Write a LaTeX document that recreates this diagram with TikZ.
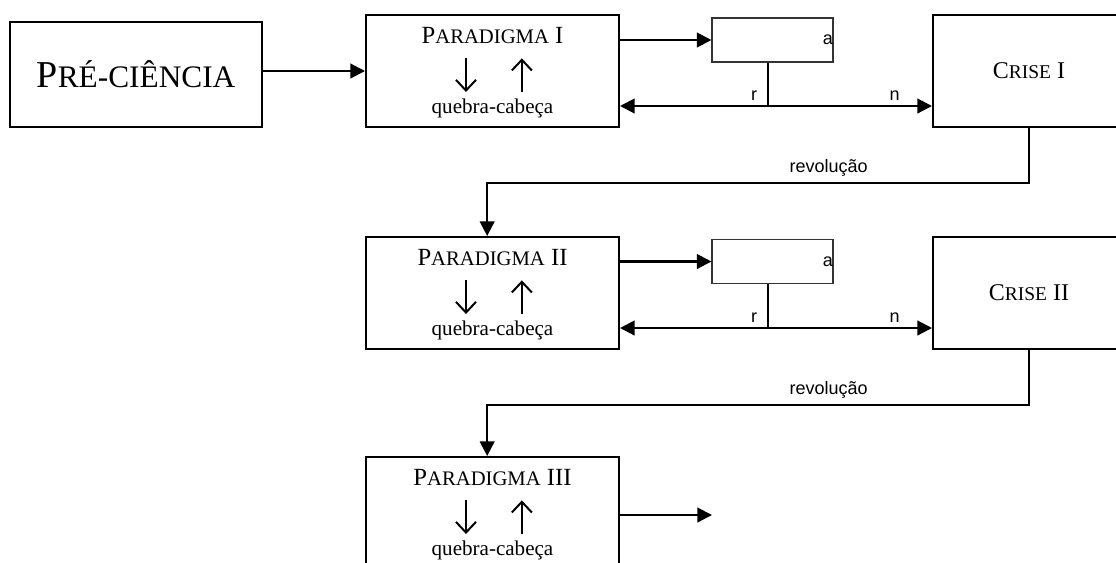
\documentclass[tikz,border=0pt]{standalone}
\usepackage{fontspec}
\setmainfont{Liberation Serif}
\newfontfamily\arialfont{Liberation Sans}
\usetikzlibrary{positioning, arrows.meta}
\newcommand{\sctitle}[1]{{\fontsize{15.5}{17}\selectfont #1}} % fake small caps
\newcommand{\sccrise}[1]{{\fontsize{14.6}{16}\selectfont #1}}
\newcommand{\scbig}[1]{{\fontsize{23.5}{26}\selectfont #1}}
\tikzset{
    >={Triangle[length=11pt, width=11pt]}, % filled heads
    box/.style={draw, line width=1.5pt, inner sep=0pt},
    parbox/.style={box, minimum width=189.75pt, minimum height=84pt},
    crisebox/.style={box, minimum width=144pt, minimum height=84pt, font=\fontsize{18}{20}\selectfont},
    smallbox/.style={draw, black!80, line width=0.8pt, minimum width=90.75pt, minimum height=33pt, inner sep=0pt},
    flow/.style={->, line width=1.6pt},
    inner/.style={-{Straight Barb[length=8pt, width=15pt, line width=1.5pt]}, line width=1.5pt},
    title/.style={font=\fontsize{18.5}{20}\selectfont, inner sep=0pt},
    puzzle/.style={font=\fontsize{15.8}{18}\selectfont, inner sep=0pt},
    lbl/.style={font=\arialfont\fontsize{13.5}{15}\selectfont, inner sep=0pt},
}
\begin{document}
\begin{tikzpicture}[x=0.75pt, y=-0.75pt]
    \useasboundingbox (0,0) rectangle (1116,562);
    \clip (0,0) rectangle (1116,562);
    % first row
    \node[box, minimum width=189pt, minimum height=78.75pt] (pre) at (136,74.5) {\fontsize{28.5}{31}\selectfont P\scbig{RÉ-CIÊNCIA}};
    \node[parbox] (par1) at (492.5,71) {};
    \node[title] (tit1) at ([yshift=-16.5pt]par1.north) {P\sctitle{ARADIGMA} I};
    \node[puzzle] (qc1) at ([yshift=14.8pt]par1.south) {quebra-cabeça};
    \draw[inner] ([xshift=-19.9pt, yshift=9.75pt]par1.center) -- ++(0,34);
    \draw[inner] ([xshift=22pt, yshift=-16pt]par1.center) -- ++(0,-34);
    \node[smallbox] (prob1) at (772.5,40) {};
    \node[lbl, anchor=east] (a1) at ([xshift=-0.3pt]prob1.east) {a};
    \node[crisebox] (crise1) at (1029,71) {C\sccrise{RISE} I};
    \coordinate (d1) at ([yshift=-26.25pt]par1.east);
    \draw[flow] (pre.east |- par1.west) -- (par1.west);
    \draw[flow] (par1.east |- prob1.west) -- (prob1.west);
    \draw[line width=0.9pt] ([xshift=-3.4pt]prob1.south) -- ([xshift=-3.4pt]prob1.south |- d1);
    \draw[flow, <->] (d1) -- (d1 -| crise1.west)
        node[lbl, above=3pt, pos=0.43] {r}
        node[lbl, above=3pt, pos=0.88] {n};
    % second row
    \node[parbox] (par2) at (492.5,293) {};
    \node[title] (tit2) at ([yshift=-16.5pt]par2.north) {P\sctitle{ARADIGMA} II};
    \node[puzzle] (qc2) at ([yshift=14.8pt]par2.south) {quebra-cabeça};
    \draw[inner] ([xshift=-19.9pt, yshift=9.75pt]par2.center) -- ++(0,34);
    \draw[inner] ([xshift=22pt, yshift=-16pt]par2.center) -- ++(0,-34);
    \node[smallbox] (prob2) at (772.5,261.5) {};
    \node[lbl, anchor=east] (a2) at ([xshift=-0.3pt]prob2.east) {a};
    \node[crisebox] (crise2) at (1029,293) {C\sccrise{RISE} II};
    \coordinate (d2) at ([yshift=-26.25pt]par2.east);
    \draw[flow] (crise1.south) -- ++(0,55) -| ([xshift=-4pt]par2.north)
        node[lbl, above=4pt, pos=0.185] {revolução};
    \draw[flow] (par2.east |- prob2.west) -- (prob2.west);
    \draw[line width=0.9pt] ([xshift=-3.4pt]prob2.south) -- ([xshift=-3.4pt]prob2.south |- d2);
    \draw[flow, <->] (d2) -- (d2 -| crise2.west)
        node[lbl, above=3pt, pos=0.43] {r}
        node[lbl, above=3pt, pos=0.88] {n};
    % third row
    \node[parbox] (par3) at (492.5,513) {};
    \node[title] (tit3) at ([yshift=-16.5pt]par3.north) {P\sctitle{ARADIGMA} III};
    \node[puzzle] (qc3) at ([yshift=14.8pt]par3.south) {quebra-cabeça};
    \draw[inner] ([xshift=-19.9pt, yshift=9.75pt]par3.center) -- ++(0,34);
    \draw[inner] ([xshift=22pt, yshift=-16pt]par3.center) -- ++(0,-34);
    \draw[flow] (crise2.south) -- ++(0,55) -| ([xshift=-4pt]par3.north)
        node[lbl, above=4pt, pos=0.185] {revolução};
    \coordinate (end3) at (712,515);
    \draw[flow] (par3.east |- end3) -- (end3);
\end{tikzpicture}
\end{document}
